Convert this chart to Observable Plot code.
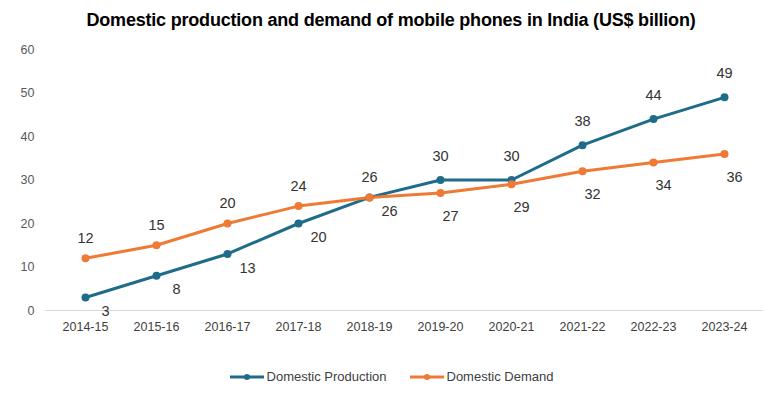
<!DOCTYPE html>
<html>
<head>
<meta charset="utf-8">
<script src="https://cdn.jsdelivr.net/npm/d3@7"></script>
<script src="https://cdn.jsdelivr.net/npm/@observablehq/plot@0.6"></script>
<style>
  body { margin: 0; background: #fff; font-family: "Liberation Sans", Arial, sans-serif; }
  #wrap { width: 782px; height: 394px; position: relative; }
  #title { height: 40px; line-height: 40px; text-align: center; font-size: 18px; font-weight: bold; color: #000; letter-spacing: -0.2px; }
  #legend { display: flex; justify-content: center; gap: 22px; margin-top: 19px; font-size: 13px; color: #404040; padding-left: 0px; }
  .item { display: flex; align-items: center; gap: 2px; }
</style>
</head>
<body>
<div id="wrap">
  <div id="title">Domestic production and demand of mobile phones in India (US$ billion)</div>
  <div id="chart"></div>
  <div id="legend"></div>
</div>
<script>
const years = ["2014-15","2015-16","2016-17","2017-18","2018-19","2019-20","2020-21","2021-22","2022-23","2023-24"];
const production = [3, 8, 13, 20, 26, 30, 30, 38, 44, 49];
const demand = [12, 15, 20, 24, 26, 27, 29, 32, 34, 36];
const yTicks = [0, 10, 20, 30, 40, 50, 60];
const seriesNames = ["Domestic Production", "Domestic Demand"];
const colors = ["#1f6b8a", "#ef7a35"];

const rows = [];
years.forEach((y, i) => {
  rows.push({year: y, value: production[i], series: seriesNames[0], i});
  rows.push({year: y, value: demand[i], series: seriesNames[1], i});
});
const prod = rows.filter(d => d.series === seriesNames[0]);
const dem = rows.filter(d => d.series === seriesNames[1]);

const labelFont = {fontSize: 14.5, fill: "#333", fontFamily: "Liberation Sans, Arial, sans-serif"};

const chart = Plot.plot({
  width: 782,
  height: 310,
  marginLeft: 45,
  marginRight: 19,
  marginTop: 9,
  marginBottom: 40,
  style: {fontFamily: "Liberation Sans, Arial, sans-serif", background: "#fff"},
  x: {type: "point", domain: years, range: [81, 727], padding: 0, label: null},
  y: {domain: [0, 60], ticks: yTicks, label: null},
  color: {domain: seriesNames, range: colors},
  marks: [
    Plot.axisY({ticks: yTicks, tickSize: 0, tickPadding: 11, fontSize: 12.5, fill: "#595959", label: null}),
    Plot.axisX({tickSize: 0, tickPadding: 12, fontSize: 12.5, fill: "#404040", label: null}),
    Plot.ruleY([0], {stroke: "#d9d9d9", strokeWidth: 1}),
    Plot.line(rows, {x: "year", y: "value", z: "series", stroke: "series", strokeWidth: 3}),
    Plot.dot(rows, {x: "year", y: "value", fill: "series", r: 4}),
    // production labels: below-right for early years, above for later
    Plot.text(prod.filter(d => d.i < 5), {x: "year", y: "value", text: d => String(d.value), dx: 20, dy: 14, ...labelFont}),
    Plot.text(prod.filter(d => d.i >= 5), {x: "year", y: "value", text: d => String(d.value), dy: -24, ...labelFont}),
    // demand labels: above for early years, below for later
    Plot.text(dem.filter(d => d.i < 5), {x: "year", y: "value", text: d => String(d.value), dy: -20, ...labelFont}),
    Plot.text(dem.filter(d => d.i >= 5), {x: "year", y: "value", text: d => String(d.value), dx: 10, dy: 23, ...labelFont})
  ]
});
document.getElementById("chart").appendChild(chart);

const legend = document.getElementById("legend");
seriesNames.forEach((name, k) => {
  const item = document.createElement("div");
  item.className = "item";
  item.innerHTML = `<svg width="36" height="10"><line x1="1" x2="35" y1="5" y2="5" stroke="${colors[k]}" stroke-width="3"/><circle cx="18" cy="5" r="3" fill="${colors[k]}"/></svg><span>${name}</span>`;
  legend.appendChild(item);
});
</script>
</body>
</html>
